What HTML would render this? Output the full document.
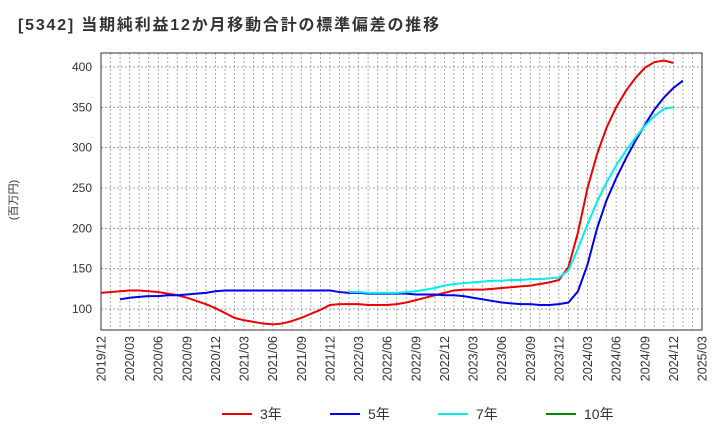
<!DOCTYPE html>
<html><head><meta charset="utf-8"><style>
body{margin:0;background:#fff;font-family:"Liberation Sans","Noto Sans CJK JP",sans-serif}
svg text{font-family:"Liberation Sans","Noto Sans CJK JP",sans-serif}
</style></head><body>
<svg id="c" width="720" height="440">
<text x="18" y="30" font-size="16" letter-spacing="1.8" font-weight="bold" fill="#333">[5342]  当期純利益12か月移動合計の標準偏差の推移</text>
<text transform="translate(17,200) rotate(-90)" font-size="11" fill="#333" text-anchor="middle">(百万円)</text>
</svg>
<script>
const xLabels=["2019/12","2020/03","2020/06","2020/09","2020/12","2021/03","2021/06","2021/09","2021/12","2022/03","2022/06","2022/09","2022/12","2023/03","2023/06","2023/09","2023/12","2024/03","2024/06","2024/09","2024/12","2025/03"];
const yTicks=[100,150,200,250,300,350,400];
const s3=[120,121,122,123,123,122,121,119,117,114,110,106,101,95,89,86,84,82,81,82,85,89,94,99,105,106,106,106,105,105,105,106,108,111,114,117,120,123,124,124,124,125,126,127,128,129,131,133,136,152,195,250,292,325,350,370,386,399,406,408,405];
const s5=[112,114,115,116,116,117,117,118,119,120,122,123,123,123,123,123,123,123,123,123,123,123,123,121,120,120,119,119,119,119,119,118,118,118,117,117,116,114,112,110,108,107,106,106,105,105,106,108,122,155,200,235,262,286,308,328,347,362,374,383];
const s7=[121,121,120,120,120,120,121,122,124,126,129,131,132,133,134,135,135,136,136,137,137,138,139,148,175,205,233,257,278,296,312,327,339,348,350];
const s10=[];
const svg=document.getElementById('c');const NS='http://www.w3.org/2000/svg';
const L=101,R=702,T=53,B=330;
const X=i=>L+i*(R-L)/63;
const Y=v=>309-(v-100)*(242/300);
function el(t,a,p){const e=document.createElementNS(NS,t);for(const k in a)e.setAttribute(k,a[k]);(p||svg).appendChild(e);return e;}
const g=el('g',{});
for(let i=1;i<63;i++){el('line',{x1:X(i),x2:X(i),y1:T,y2:B,stroke:'#999','stroke-dasharray':'2,2','stroke-width':0.8},g);}
yTicks.forEach(v=>{el('line',{x1:L,x2:R,y1:Y(v),y2:Y(v),stroke:'#888','stroke-dasharray':'2,2','stroke-width':0.8},g);
const t=el('text',{x:L-9,y:Y(v)+4,'font-size':12,fill:'#333','text-anchor':'end'});t.textContent=v;
});
xLabels.forEach((s,k)=>{const x=X(k*3);const t=el('text',{transform:`translate(${x+4.5},${B+6}) rotate(-90)`,'font-size':12.5,fill:'#333','text-anchor':'end'});t.textContent=s;
});
const fr=el('rect',{x:L,y:T,width:R-L,height:B-T,fill:'none',stroke:'#333','stroke-width':1});

function line(arr,start,color,name){if(!arr.length)return;const p=el('polyline',{points:arr.map((v,i)=>X(start+i)+','+Y(v)).join(' '),fill:'none',stroke:color,'stroke-width':2});
}
line(s3,0,'#e00','series-3y');line(s5,2,'#00e','series-5y');line(s7,26,'#0ee','series-7y');line(s10,48,'#080','series-10y');
const leg=[['3年','#e00',222],['5年','#00e',330],['7年','#0ee',438],['10年','#080',546]];
leg.forEach(([n,c,x])=>{const gg=el('g',{});
el('line',{x1:x,x2:x+30,y1:414,y2:414,stroke:c,'stroke-width':2},gg);
const t=el('text',{x:x+38,y:419,'font-size':14,fill:'#333'},gg);t.textContent=n;});
</script>
</body></html>
